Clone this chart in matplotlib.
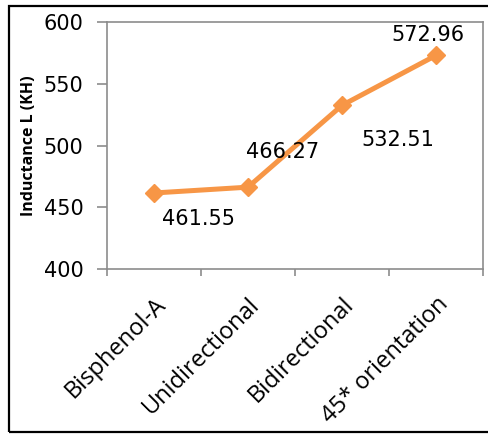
import matplotlib
matplotlib.use("Agg")
import matplotlib.pyplot as plt
import matplotlib.transforms as mtransforms
from matplotlib.patches import Rectangle

categories = ["Bisphenol-A", "Unidirectional", "Bidirectional", "45* orientation"]
inductance = [461.55, 466.27, 532.51, 572.96]
# label offsets (points) relative to each marker
label_offsets = [(32, -19), (25, 25), (40, -25), (-6, 15)]
y_ticks = [400, 450, 500, 550, 600]

plt.rcParams['font.family'] = ['DejaVu Sans']

fig = plt.figure(figsize=(4.88, 4.34), dpi=100)
ax = fig.add_axes([107 / 488, 1 - 269 / 434, (483 - 107) / 488, (269 - 22) / 434])

x = list(range(len(categories)))
ax.plot(x, inductance, color="#F79646", lw=3.6, marker="D", markersize=9,
        markerfacecolor="#F79646", markeredgecolor="#F79646", solid_joinstyle="round")

for xi, v, (dx, dy) in zip(x, inductance, label_offsets):
    ax.annotate(f"{v:.2f}", (xi, v), xytext=(dx, dy), textcoords="offset points",
                ha="center", va="center", fontsize=15, color="black")

ax.set_xlim(-0.5, len(categories) - 0.5)
ax.set_ylim(400, 600)
ax.set_yticks(y_ticks)
ax.set_yticklabels([str(t) for t in y_ticks], fontsize=15)
ax.set_xticks(x)
ax.set_xticklabels(categories, rotation=45, ha="right", va="top",
                   rotation_mode="anchor", fontsize=17, family="Open Sans")
# nudge the slanted category labels slightly left
shift = mtransforms.ScaledTranslation(-0.05, -0.01, fig.dpi_scale_trans)
for lbl in ax.get_xticklabels():
    lbl.set_transform(lbl.get_transform() + shift)
ax.set_xticks([i - 0.5 for i in range(len(categories) + 1)], minor=True)
ax.tick_params(axis="x", which="major", length=0, pad=17)
ax.tick_params(axis="x", which="minor", length=5, width=1.2, color="#8c8c8c")
ax.tick_params(axis="y", length=7, width=1.2, color="#8c8c8c", pad=10)

for s in ax.spines.values():
    s.set_color("#8c8c8c")
    s.set_linewidth(1.2)

ax.set_ylabel("Inductance L (KH)", fontsize=11.5, fontweight="bold", family="Open Sans")
ax.yaxis.set_label_coords(-0.186, 0.498)

fig.patches.append(Rectangle((9 / 488, 2 / 434), 1.0, 426 / 434, transform=fig.transFigure,
                             fill=False, edgecolor="black", lw=1.6, clip_on=False))

fig.savefig("out.png", dpi=100)
